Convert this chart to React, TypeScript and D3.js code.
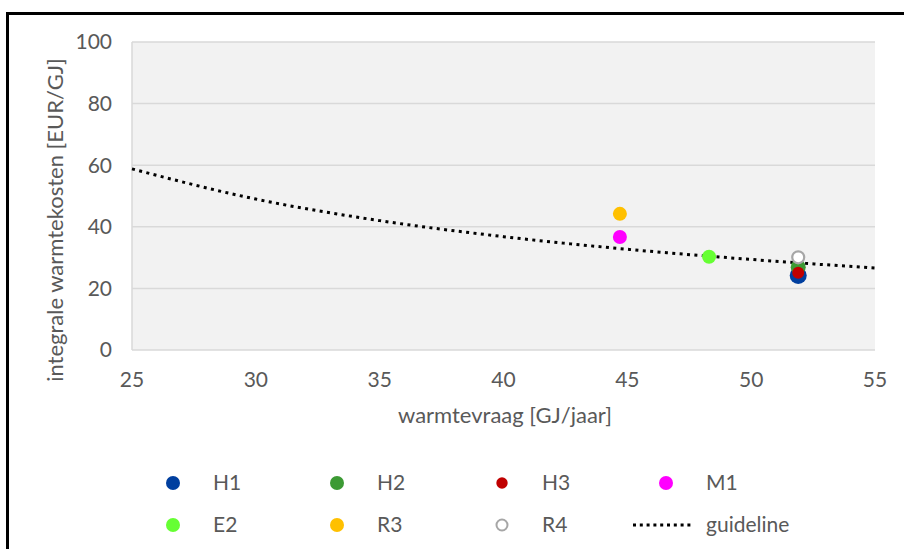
import React from "react";
import * as d3 from "d3";

const xTicks = [25, 30, 35, 40, 45, 50, 55];
const yTicks = [0, 20, 40, 60, 80, 100];

const seriesNames = ["H1", "H2", "H3", "M1", "E2", "R3", "R4"];
const seriesX = [51.9, 51.9, 51.9, 44.7, 48.3, 44.7, 51.9];
const seriesY = [24.2, 26.9, 25.1, 36.7, 30.3, 44.2, 30.1];
const seriesColors = ["#003f9f", "#3c9a34", "#c00000", "#ff00ff", "#66ff33", "#ffc000", "#a6a6a6"];

const guideX = [25, 30, 35, 40, 45, 50, 55];
const guideY = [58.8, 49.0, 42.0, 36.8, 32.7, 29.4, 26.6];

const FONT = "Lato, 'Liberation Sans', sans-serif";
const TEXT = "#595959";

export default function App() {
  const x = d3.scaleLinear().domain([25, 55]).range([132, 875]);
  const y = d3.scaleLinear().domain([0, 100]).range([350, 42]);
  const line = d3
    .line<number>()
    .x((d, i) => x(guideX[i]))
    .y((d) => y(d))
    .curve(d3.curveMonotoneX);

  const radius: Record<string, number> = { H1: 8.5, H2: 7.5, H3: 6, M1: 7, E2: 7, R3: 7, R4: 6 };
  const legR: Record<string, number> = { H1: 7, H2: 7, H3: 5.7, M1: 7, E2: 7, R3: 7, R4: 5.5 };

  const legendItems = [...seriesNames, "guideline"];
  const legCols = [173, 337, 502, 666];
  const legRows = [483, 525];

  return (
    <svg
      width={904}
      height={549}
      style={{ position: "absolute", left: 0, top: 0, background: "#fff" }}
      fontFamily={FONT}
    >
      <rect x={0} y={0} width={904} height={549} fill="#fff" />
      <path d="M7.5,560 V13.5 H920" fill="none" stroke="#000" strokeWidth={3} />
      <rect x={x(25)} y={y(100)} width={x(55) - x(25)} height={y(0) - y(100)} fill="#f2f2f2" />
      {yTicks.map((t) => (
        <line key={"g" + t} x1={x(25)} x2={x(55)} y1={y(t)} y2={y(t)} stroke="#d9d9d9" strokeWidth={1.5} />
      ))}
      <line x1={x(25)} x2={x(25)} y1={y(0)} y2={y(100)} stroke="#d9d9d9" strokeWidth={1.5} />
      {yTicks.map((t) => (
        <text key={"yt" + t} x={112} y={y(t)} dy="0.35em" textAnchor="end" fontSize={21} fill={TEXT}>
          {t}
        </text>
      ))}
      {xTicks.map((t) => (
        <text key={"xt" + t} x={x(t)} y={387} textAnchor="middle" fontSize={21} fill={TEXT}>
          {t}
        </text>
      ))}
      <text x={505} y={423} textAnchor="middle" fontSize={22} fill={TEXT}>
        warmtevraag [GJ/jaar]
      </text>
      <text
        transform={`translate(63,220) rotate(-90)`}
        textAnchor="middle"
        fontSize={22}
        fill={TEXT}
      >
        integrale warmtekosten [EUR/GJ]
      </text>
      <path d={line(guideY) || ""} fill="none" stroke="#000" strokeWidth={3} strokeDasharray="3 4.4" />
      {seriesNames.map((n, i) =>
        n === "R4" ? (
          <circle key={n} cx={x(seriesX[i])} cy={y(seriesY[i])} r={radius[n]} fill="#fff" stroke={seriesColors[i]} strokeWidth={2.2} />
        ) : (
          <circle key={n} cx={x(seriesX[i])} cy={y(seriesY[i])} r={radius[n]} fill={seriesColors[i]} />
        )
      )}
      {legendItems.map((n, k) => {
        const cx = legCols[k % 4];
        const cy = legRows[Math.floor(k / 4)];
        const i = seriesNames.indexOf(n);
        let marker;
        if (n === "guideline") {
          marker = (
            <line x1={cx - 33} x2={cx + 27} y1={cy} y2={cy} stroke="#000" strokeWidth={3} strokeDasharray="3 3.8" />
          );
        } else if (n === "R4") {
          marker = <circle cx={cx} cy={cy} r={legR[n]} fill="#fff" stroke={seriesColors[i]} strokeWidth={2} />;
        } else {
          marker = <circle cx={cx} cy={cy} r={legR[n]} fill={seriesColors[i]} />;
        }
        return (
          <g key={"l" + n}>
            {marker}
            <text x={n === "guideline" ? cx + 40 : cx + 40} y={cy} dy="0.35em" fontSize={21} fill={TEXT}>
              {n}
            </text>
          </g>
        );
      })}
    </svg>
  );
}
